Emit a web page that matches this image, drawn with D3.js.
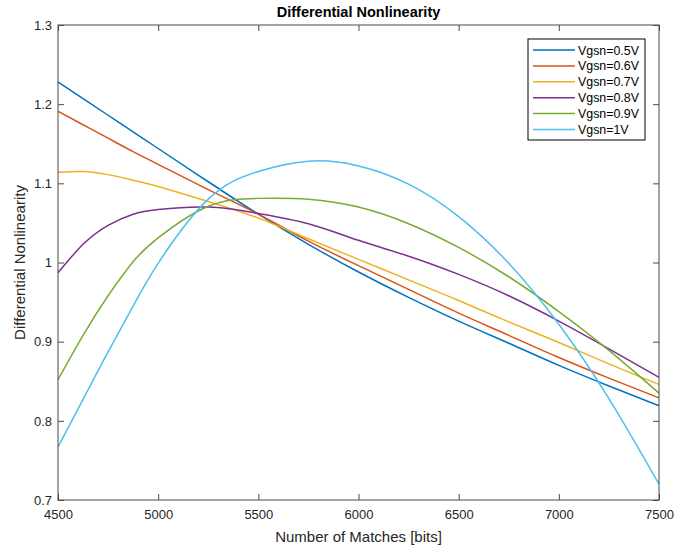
<!DOCTYPE html>
<html><head><meta charset="utf-8">
<script src="https://cdn.jsdelivr.net/npm/d3@7"></script>
<style>
body{margin:0;background:#fff;}
svg{display:block;font-family:"Liberation Sans",Arial,Helvetica,sans-serif;}
</style></head>
<body>
<svg id="chart" width="675" height="550"></svg>
<script>
// ---- data ----
const matches = [4500,4625,4750,4875,5000,5250,5500,5750,6000,6250,6500,6750,7000,7250,7500];
const vgsn05 = [1.228,1.207,1.186,1.165,1.144,1.102,1.061,1.023,0.988,0.956,0.926,0.898,0.870,0.844,0.819];
const vgsn06 = [1.191,1.174,1.157,1.140,1.124,1.092,1.061,1.027,0.996,0.966,0.936,0.908,0.880,0.854,0.829];
const vgsn07 = [1.114,1.115,1.111,1.104,1.096,1.077,1.056,1.030,1.004,0.978,0.952,0.925,0.899,0.872,0.846];
const vgsn08 = [0.987,1.023,1.047,1.061,1.067,1.070,1.062,1.049,1.028,1.008,0.985,0.958,0.926,0.891,0.855];
const vgsn09 = [0.852,0.908,0.958,1.001,1.031,1.071,1.081,1.080,1.070,1.049,1.019,0.982,0.938,0.889,0.835];
const vgsn10 = [0.767,0.827,0.887,0.945,0.999,1.080,1.115,1.128,1.122,1.099,1.058,0.999,0.922,0.828,0.720];
const seriesNames = ["Vgsn=0.5V","Vgsn=0.6V","Vgsn=0.7V","Vgsn=0.8V","Vgsn=0.9V","Vgsn=1V"];
const seriesColors = ["#0072BD","#D95319","#EDB120","#7E2F8E","#77AC30","#4DBEEE"];
const xTicks = [4500,5000,5500,6000,6500,7000,7500];
const yTicks = [0.7,0.8,0.9,1.0,1.1,1.2,1.3];
const titleText = "Differential Nonlinearity";
const xLabel = "Number of Matches [bits]";
const yLabel = "Differential Nonlinearity";

const seriesValues = [vgsn05,vgsn06,vgsn07,vgsn08,vgsn09,vgsn10];
const series = seriesNames.map((n,i)=>({name:n,color:seriesColors[i],
  points:matches.map((m,j)=>[m,seriesValues[i][j]])}));

// ---- layout ----
const L=58, R=659, T=25, B=500;
const svg=d3.select("#chart");
const x=d3.scaleLinear().domain([4500,7500]).range([L,R]);
const y=d3.scaleLinear().domain([0.7,1.3]).range([B,T]);
const axisColor="#4a4a4a";
const tickLen=6;

// lines
const line=d3.line().x(d=>x(d[0])).y(d=>y(d[1])).curve(d3.curveNatural);
svg.append("g").selectAll("path").data(series).join("path")
  .attr("d",d=>line(d.points)).attr("fill","none")
  .attr("stroke",d=>d.color).attr("stroke-width",1.5);

// axes
function styleAxis(g){
  g.select(".domain").remove();
  g.selectAll(".tick line").attr("stroke",axisColor);
  g.selectAll(".tick text").attr("fill","#262626").style("font-size","13px")
   .style("font-family","'Liberation Sans',Arial,sans-serif");
}
svg.append("g").attr("transform",`translate(0,${B})`)
  .call(d3.axisBottom(x).tickValues(xTicks).tickFormat(d3.format("d")).tickSizeInner(-tickLen).tickSizeOuter(0).tickPadding(10))
  .call(styleAxis);
svg.append("g").attr("transform",`translate(0,${T})`)
  .call(d3.axisTop(x).tickValues(xTicks).tickFormat("").tickSizeInner(-tickLen).tickSizeOuter(0))
  .call(styleAxis);
svg.append("g").attr("transform",`translate(${L},0)`)
  .call(d3.axisLeft(y).tickValues(yTicks).tickFormat(d3.format("")).tickSizeInner(-tickLen).tickSizeOuter(0).tickPadding(6))
  .call(styleAxis);
svg.append("g").attr("transform",`translate(${R},0)`)
  .call(d3.axisRight(y).tickValues(yTicks).tickFormat("").tickSizeInner(-tickLen).tickSizeOuter(0))
  .call(styleAxis);

// box
svg.append("rect").attr("x",L).attr("y",T).attr("width",R-L).attr("height",B-T)
  .attr("fill","none").attr("stroke",axisColor).attr("stroke-width",1);

// title and labels
svg.append("text").attr("x",(L+R)/2).attr("y",17).attr("text-anchor","middle")
  .style("font-size","14.5px").style("font-weight","bold").attr("fill","#000").text(titleText);
svg.append("text").attr("x",(L+R)/2).attr("y",542).attr("text-anchor","middle")
  .style("font-size","15px").attr("fill","#262626").text(xLabel);
svg.append("text").attr("transform",`translate(25,${(T+B)/2}) rotate(-90)`).attr("text-anchor","middle")
  .style("font-size","15px").attr("fill","#262626").text(yLabel);

// legend
const lg=svg.append("g");
const lx=528, ly=39, lw=117, lh=101;
lg.append("rect").attr("x",lx).attr("y",ly).attr("width",lw).attr("height",lh)
  .attr("fill","#fff").attr("stroke","#000").attr("stroke-width",1);
const rows=lg.selectAll("g.row").data(series).join("g").attr("class","row")
  .attr("transform",(d,i)=>`translate(${lx},${ly+11+i*15.9})`);
rows.append("line").attr("x1",5).attr("x2",47).attr("y1",0).attr("y2",0)
  .attr("stroke",d=>d.color).attr("stroke-width",1.5);
rows.append("text").attr("x",50).attr("y",4.5).style("font-size","12.4px")
  .attr("fill","#000").text(d=>d.name);
</script>
</body></html>
